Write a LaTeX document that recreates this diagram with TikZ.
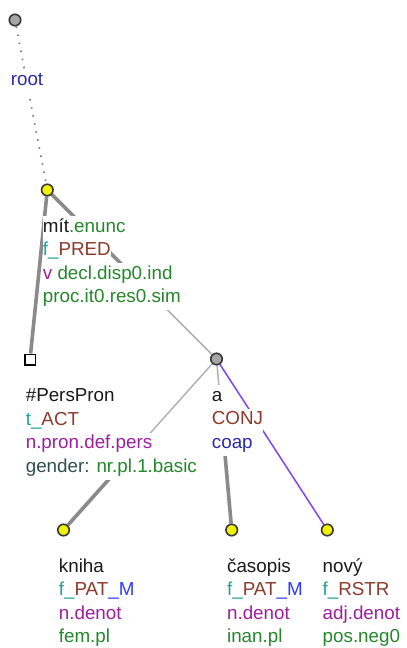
\documentclass[tikz,border=0pt]{standalone}
\usepackage{fontspec}
\setmainfont{Liberation Sans}
\usetikzlibrary{calc,backgrounds}

\definecolor{lemmaclr}{HTML}{1A1A1A}
\definecolor{gramclr}{HTML}{24882A}
\definecolor{prefclr}{HTML}{1FA0A0}
\definecolor{functorclr}{HTML}{8B3A2B}
\definecolor{memberclr}{HTML}{2E3BFF}
\definecolor{posclr}{HTML}{9E1F9E}
\definecolor{attrclr}{HTML}{2F4F4F}
\definecolor{rootclr}{HTML}{2A2AA6}
\definecolor{coapclr}{HTML}{8442F2}
\definecolor{tyellow}{HTML}{F2F200}
\definecolor{tgray}{HTML}{A6A6A6}
\definecolor{nodeedge}{HTML}{383838}

\begin{document}
\begin{tikzpicture}[
  x=1pt, y=-1pt,
  % --- node symbols
  tnode/.style={circle, draw=nodeedge, line width=1.6pt, minimum size=11.5pt, inner sep=0pt},
  yellownode/.style={tnode, fill=tyellow},
  graynode/.style={tnode, fill=tgray},
  sqnode/.style={rectangle, draw=black, line width=1.5pt, fill=white, minimum size=10.5pt, inner sep=0pt},
  % --- one line of a node label (white box hides the edges)
  lbl/.style={anchor=base west, fill=white, inner sep=0pt, text height=16pt, text depth=7.5pt,
    font=\fontsize{18.8}{23.5}\selectfont},
  % --- edges
  thickedge/.style={draw=black!46, line width=3.6pt},
  thinedge/.style={draw=black!30, line width=1.5pt},
  rootedge/.style={draw=black!50, line width=1.7pt, dash pattern=on 1.6pt off 6.6pt},
  coapedge/.style={draw=coapclr, line width=1.5pt},
]
\useasboundingbox (0,0) rectangle (407,648);

%========================
% tree nodes
%========================
\node[graynode] (root) at (15,20) {};
\node[yellownode] (mit) at (47.3,190) {};
\node[sqnode] (perspron) at (30,359.5) {};
\node[graynode] (a) at (216.5,359) {};
\node[yellownode] (kniha) at (63.5,530) {};
\node[yellownode] (casopis) at (231.7,530) {};
\node[yellownode] (novy) at (327.3,530) {};

%========================
% labels
%========================
% root (first line is empty)
\node[lbl] (root-2) at ($(root)+(-4.4,65.5)$) {\color{rootclr}root};

% mit
\node[lbl] (mit-1) at ($(mit)+(-4.6,42)$) {\color{lemmaclr}mít\color{gramclr}.enunc};
\node[lbl] (mit-2) at ($(mit-1.base west)+(0,23.5)$) {\color{prefclr}f\_\color{functorclr}PRED};
\node[lbl] (mit-3) at ($(mit-2.base west)+(0,23.5)$) {\color{posclr}v \color{gramclr}decl.disp0.ind};
\node[lbl] (mit-4) at ($(mit-3.base west)+(0,23.5)$) {\color{gramclr}proc.it0.res0.sim};

% #PersPron
\node[lbl] (perspron-1) at ($(perspron)+(-4.4,42)$) {\color{lemmaclr}\#PersPron};
\node[lbl] (perspron-2) at ($(perspron-1.base west)+(0,23.5)$) {\color{prefclr}t\_\color{functorclr}ACT};
\node[lbl] (perspron-3) at ($(perspron-2.base west)+(0,23.5)$) {\color{posclr}n.pron.def.pers};
\node[lbl] (perspron-4) at ($(perspron-3.base west)+(0,23.5)$) {\color{attrclr}gender: \color{gramclr}nr.pl.1.basic};

% a
\node[lbl] (a-1) at ($(a)+(-4.8,42)$) {\color{lemmaclr}a};
\node[lbl] (a-2) at ($(a-1.base west)+(0,23.5)$) {\color{functorclr}CONJ};
\node[lbl] (a-3) at ($(a-2.base west)+(0,23.5)$) {\color{rootclr}coap};

% kniha
\node[lbl] (kniha-1) at ($(kniha)+(-4.8,42)$) {\color{lemmaclr}kniha};
\node[lbl] (kniha-2) at ($(kniha-1.base west)+(0,23.5)$) {\color{prefclr}f\_\color{functorclr}PAT\color{memberclr}\_M};
\node[lbl] (kniha-3) at ($(kniha-2.base west)+(0,23.5)$) {\color{posclr}n.denot};
\node[lbl] (kniha-4) at ($(kniha-3.base west)+(0,23.5)$) {\color{gramclr}fem.pl};

% casopis
\node[lbl] (casopis-1) at ($(casopis)+(-4.8,42)$) {\color{lemmaclr}časopis};
\node[lbl] (casopis-2) at ($(casopis-1.base west)+(0,23.5)$) {\color{prefclr}f\_\color{functorclr}PAT\color{memberclr}\_M};
\node[lbl] (casopis-3) at ($(casopis-2.base west)+(0,23.5)$) {\color{posclr}n.denot};
\node[lbl] (casopis-4) at ($(casopis-3.base west)+(0,23.5)$) {\color{gramclr}inan.pl};

% novy
\node[lbl] (novy-1) at ($(novy)+(-4.8,42)$) {\color{lemmaclr}nový};
\node[lbl] (novy-2) at ($(novy-1.base west)+(0,23.5)$) {\color{prefclr}f\_\color{functorclr}RSTR};
\node[lbl] (novy-3) at ($(novy-2.base west)+(0,23.5)$) {\color{posclr}adj.denot};
\node[lbl] (novy-4) at ($(novy-3.base west)+(0,23.5)$) {\color{gramclr}pos.neg0};

%========================
% edges (behind the labels)
%========================
\begin{pgfonlayer}{background}
  \draw[rootedge] (root) -- (mit);
  \draw[thickedge] (mit) -- (perspron);
  % coordination: halves styled separately
  \coordinate (mid-mit-a) at ($(mit)!0.5!(a)$);
  \draw[thickedge] (mit) -- (mid-mit-a);
  \draw[thinedge] (mid-mit-a) -- (a);
  \coordinate (mid-a-kniha) at ($(a)!0.5!(kniha)$);
  \draw[thinedge] (a) -- (mid-a-kniha);
  \draw[thickedge] (mid-a-kniha) -- (kniha);
  \coordinate (mid-a-casopis) at ($(a)!0.5!(casopis)$);
  \draw[thinedge] (a) -- (mid-a-casopis);
  \draw[thickedge] (mid-a-casopis) -- (casopis);
  \draw[coapedge] (a) -- (novy);
\end{pgfonlayer}

\end{tikzpicture}
\end{document}
